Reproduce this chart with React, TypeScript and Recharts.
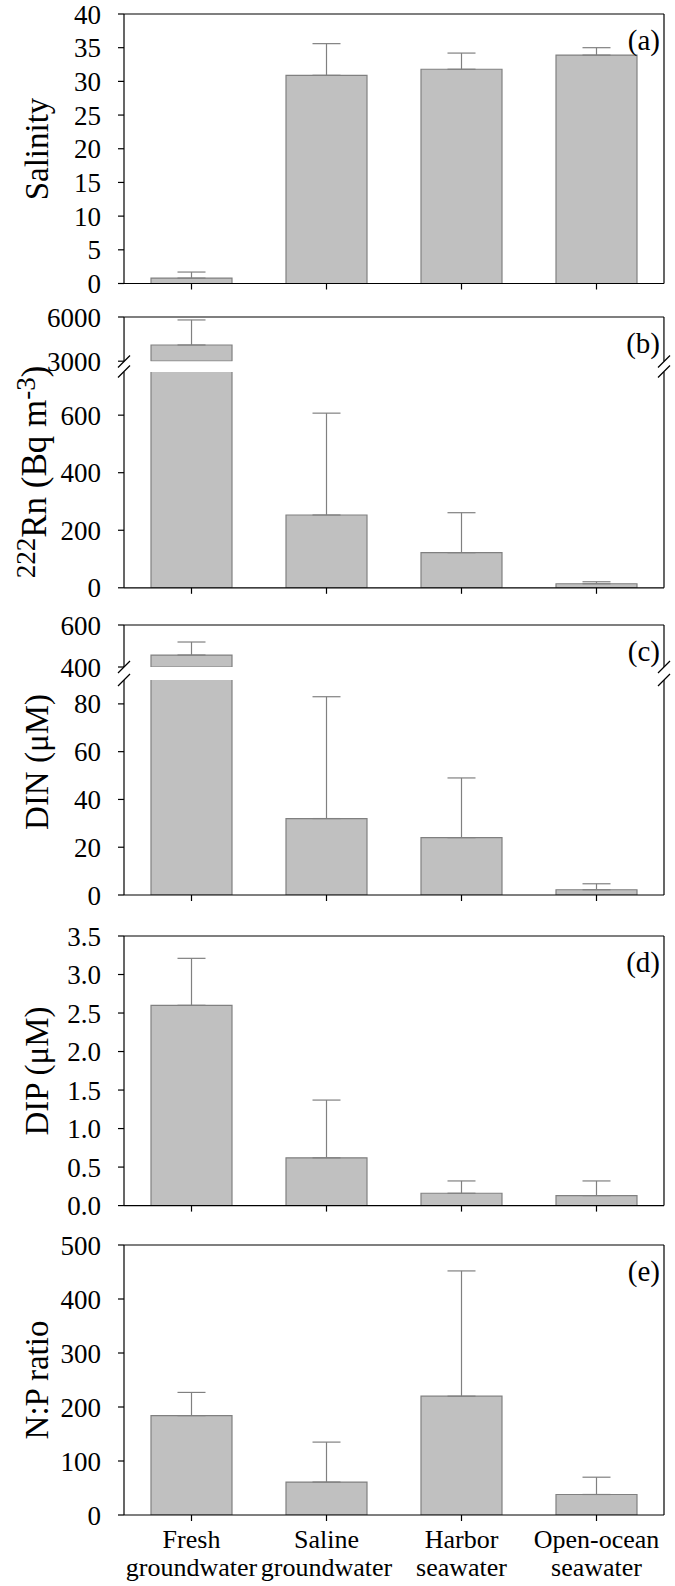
import React from 'react';
import { ComposedChart, Bar, ErrorBar, XAxis, YAxis } from 'recharts';

const categories = ['Fresh\ngroundwater', 'Saline\ngroundwater', 'Harbor\nseawater', 'Open-ocean\nseawater'];

// means and upper error (SD)
const salinity = [0.8, 30.9, 31.8, 33.9];
const salinitySd = [0.9, 4.7, 2.4, 1.1];
const radon = [4100, 253, 122, 14];
const radonSd = [1700, 354, 139, 7];
const din = [457, 32, 24, 2.2];
const dinSd = [62, 51, 25, 2.5];
const dip = [2.6, 0.62, 0.16, 0.13];
const dipSd = [0.61, 0.75, 0.16, 0.19];
const npRatio = [184, 61, 220, 38];
const npRatioSd = [43, 74, 232, 32];

const salinityTicks = [0, 5, 10, 15, 20, 25, 30, 35, 40];
const radonTicksHigh = [3000, 6000];
const radonTicksLow = [0, 200, 400, 600];
const dinTicksHigh = [400, 600];
const dinTicksLow = [0, 20, 40, 60, 80];
const dipTicks = [0, 0.5, 1, 1.5, 2, 2.5, 3, 3.5];
const npTicks = [0, 100, 200, 300, 400, 500];

const FONT = '"Liberation Serif", "Times New Roman", serif';
const W = 675;
const LEFT = 124;
const RIGHT = 11;
const BAR_FILL = '#c0c0c0';
const EDGE = '#808080';

const CatTick = (props: any) => {
  const { x, y, payload } = props;
  const lines = String(payload.value).split('\n');
  return (
    <text x={x} y={y} textAnchor="middle" fill="#000" fontSize={26} fontFamily={FONT}>
      {lines.map((l, i) => (
        <tspan key={i} x={x} y={y + 25 + i * 28}>
          {l}
        </tspan>
      ))}
    </text>
  );
};

type SegProps = {
  values: number[];
  errors: number[];
  domain: [number, number];
  ticks: number[];
  top: number;
  bottom: number;
  frameTop: boolean;
  xAxis: 'none' | 'ticks' | 'labels';
  fmt?: (v: number) => string;
};

function Segment({ values, errors, domain, ticks, top, bottom, frameTop, xAxis, fmt }: SegProps) {
  const [lo, hi] = domain;
  const data = categories.map((c, i) => {
    const v = values[i];
    const show = v > lo;
    const e = show && v + errors[i] <= hi ? [0, errors[i]] : null;
    return { cat: c, v: show ? v : null, e };
  });
  const padTop = 20;
  const padBottom = xAxis === 'none' ? 24 : xAxis === 'labels' ? 71 : 20;
  const h = padTop + (bottom - top) + padBottom;
  return (
    <div style={{ position: 'absolute', left: 0, top: top - padTop }}>
      <ComposedChart
        width={W}
        height={h}
        data={data}
        margin={{ top: 0, right: 0, left: 0, bottom: xAxis === 'none' ? padBottom : 0 }}
      >
        <XAxis
          xAxisId="top"
          orientation="top"
          dataKey="cat"
          height={padTop}
          axisLine={frameTop ? { stroke: '#000', strokeWidth: 1.2 } : false}
          tickLine={false}
          tick={false}
        />
        {xAxis === 'none' ? (
          <XAxis dataKey="cat" hide />
        ) : (
          <XAxis
            dataKey="cat"
            height={padBottom}
            interval={0}
            tickSize={6}
            axisLine={{ stroke: '#000', strokeWidth: 1.2 }}
            tickLine={{ stroke: '#000', strokeWidth: 1.2 }}
            tick={xAxis === 'labels' ? <CatTick /> : { fontSize: 1 }}
            tickFormatter={xAxis === 'labels' ? undefined : () => ''}
          />
        )}
        <YAxis
          type="number"
          domain={domain}
          ticks={ticks}
          allowDataOverflow
          interval={0}
          width={LEFT}
          tickSize={6}
          tickMargin={17}
          axisLine={{ stroke: '#000', strokeWidth: 1.2 }}
          tickLine={{ stroke: '#000', strokeWidth: 1.2 }}
          tick={{ fill: '#000', fontSize: 27, fontFamily: FONT }}
          tickFormatter={fmt}
        />
        <YAxis
          yAxisId="r"
          orientation="right"
          type="number"
          domain={[0, 1]}
          width={RIGHT}
          tick={false}
          tickLine={false}
          axisLine={{ stroke: '#000', strokeWidth: 1.2 }}
        />
        <Bar dataKey="v" fill={BAR_FILL} stroke={EDGE} strokeWidth={1.2} barSize={81} isAnimationActive={false}>
          <ErrorBar dataKey="e" width={14} stroke={EDGE} strokeWidth={1.2} isAnimationActive={false} />
        </Bar>
      </ComposedChart>
    </div>
  );
}

const Slash = ({ x, y }: { x: number; y: number }) => (
  <line x1={x - 6} y1={y + 6} x2={x + 6} y2={y - 6} stroke="#000" strokeWidth={1.2} />
);

const YTitle = ({ cy, x = 48, children, size = 33 }: any) => (
  <text
    transform={`translate(${x},${cy}) rotate(-90)`}
    textAnchor="middle"
    fontSize={size}
    fontFamily={FONT}
    fill="#000"
  >
    {children}
  </text>
);

const Letter = ({ top, children }: any) => (
  <text x={660} y={top + 36} textAnchor="end" fontSize={29} fontFamily={FONT} fill="#000">
    {children}
  </text>
);

export default function App() {
  const xR = W - RIGHT;
  return (
    <div style={{ position: 'absolute', left: 0, top: 0, width: W, height: 1586, background: '#fff', fontFamily: FONT }}>
      {/* (a) salinity */}
      <Segment values={salinity} errors={salinitySd} domain={[0, 40]} ticks={salinityTicks} top={14} bottom={283.5} frameTop xAxis="ticks" />
      {/* (b) radon, broken axis */}
      <Segment values={radon} errors={radonSd} domain={[3000, 6000]} ticks={radonTicksHigh} top={317.3} bottom={361.5} frameTop xAxis="none" />
      <Segment values={radon} errors={radonSd} domain={[0, 750]} ticks={radonTicksLow} top={371.5} bottom={587.3} frameTop={false} xAxis="ticks" />
      {/* (c) DIN, broken axis */}
      <Segment values={din} errors={dinSd} domain={[400, 600]} ticks={dinTicksHigh} top={625} bottom={667} frameTop xAxis="none" />
      <Segment values={din} errors={dinSd} domain={[0, 90]} ticks={dinTicksLow} top={680} bottom={895} frameTop={false} xAxis="ticks" />
      {/* (d) DIP */}
      <Segment values={dip} errors={dipSd} domain={[0, 3.5]} ticks={dipTicks} top={935.7} bottom={1205.3} frameTop xAxis="ticks" fmt={(v) => v.toFixed(1)} />
      {/* (e) N:P */}
      <Segment values={npRatio} errors={npRatioSd} domain={[0, 500]} ticks={npTicks} top={1245} bottom={1515} frameTop xAxis="labels" />

      <svg width={W} height={1586} style={{ position: 'absolute', left: 0, top: 0, pointerEvents: 'none' }}>
        <YTitle cy={149}>Salinity</YTitle>
        <YTitle cy={472} x={46} size={35}>
          <tspan fontSize={27} dy={-11}>222</tspan>
          <tspan dy={11}>Rn (Bq m</tspan>
          <tspan fontSize={27} dy={-11}>-3</tspan>
          <tspan dy={11}>)</tspan>
        </YTitle>
        <YTitle cy={762}>DIN (μM)</YTitle>
        <YTitle cy={1071}>DIP (μM)</YTitle>
        <YTitle cy={1380}>N:P ratio</YTitle>

        <Letter top={14}>(a)</Letter>
        <Letter top={317.3}>(b)</Letter>
        <Letter top={625}>(c)</Letter>
        <Letter top={935.7}>(d)</Letter>
        <Letter top={1245}>(e)</Letter>

        <Slash x={LEFT} y={361.5} />
        <Slash x={LEFT} y={371.5} />
        <Slash x={xR} y={361.5} />
        <Slash x={xR} y={371.5} />
        <Slash x={LEFT} y={667} />
        <Slash x={LEFT} y={680} />
        <Slash x={xR} y={667} />
        <Slash x={xR} y={680} />
      </svg>
    </div>
  );
}
